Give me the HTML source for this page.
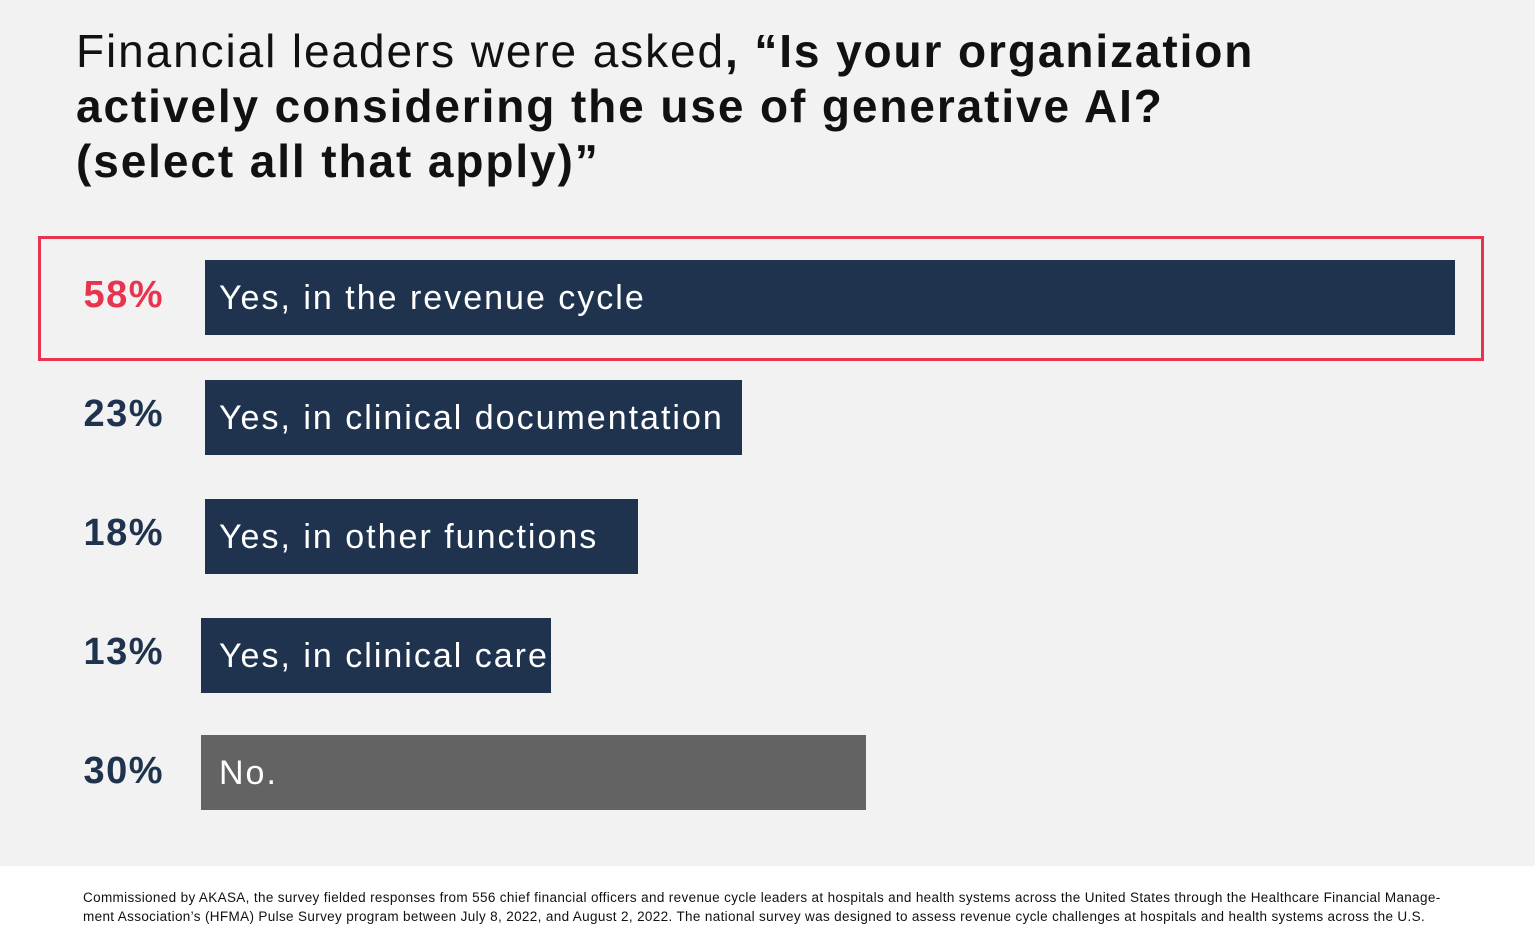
<!DOCTYPE html>
<html><head><style>
body{margin:0;width:1536px;height:952px;background:#fff;position:relative;overflow:hidden;font-family:"Liberation Sans",sans-serif}
.bg{position:absolute;left:0;top:0;width:1535px;height:866px;background:#f2f2f2}
.t{position:absolute;left:76px;top:24px;font-size:46px;line-height:55px;color:#111;letter-spacing:1.9px;white-space:nowrap}
.t b{font-weight:bold}
.box{position:absolute;left:38px;top:236px;width:1440px;height:119px;border:3px solid #e8344e}
.bar{position:absolute;height:75px;background:#1f334f;color:#fff;font-size:34px;line-height:77px;padding-left:14px;box-sizing:border-box;white-space:nowrap;overflow:hidden;letter-spacing:2px}
.p{position:absolute;width:164px;text-align:right;font-weight:bold;font-size:38px;color:#1f334f;letter-spacing:1.5px}
.f{position:absolute;left:83px;top:888px;font-size:13.5px;line-height:19px;color:#111;letter-spacing:0.35px;white-space:nowrap}
</style></head><body>
<div class="bg"></div>
<div class="t">Financial leaders were asked<b>, “Is your organization<br>actively considering the use of generative AI?<br>(select all that apply)”</b></div>
<div class="box"></div>
<div class="p" style="top:274px;left:0;color:#e8344e">58%</div>
<div class="bar" style="left:205px;top:260px;width:1250px">Yes, in the revenue cycle</div>
<div class="p" style="top:393px;left:0">23%</div>
<div class="bar" style="left:205px;top:380px;width:537px">Yes, in clinical documentation</div>
<div class="p" style="top:512px;left:0">18%</div>
<div class="bar" style="left:205px;top:499px;width:433px">Yes, in other functions</div>
<div class="p" style="top:631px;left:0">13%</div>
<div class="bar" style="left:201px;top:618px;width:350px;padding-left:18px">Yes, in clinical care</div>
<div class="p" style="top:750px;left:0">30%</div>
<div class="bar" style="left:201px;top:735px;width:665px;background:#636363;padding-left:18px">No.</div>
<div class="f">Commissioned by AKASA, the survey fielded responses from 556 chief financial officers and revenue cycle leaders at hospitals and health systems across the United States through the Healthcare Financial Manage-<br>ment Association’s (HFMA) Pulse Survey program between July 8, 2022, and August 2, 2022. The national survey was designed to assess revenue cycle challenges at hospitals and health systems across the U.S.</div>
</body></html>
